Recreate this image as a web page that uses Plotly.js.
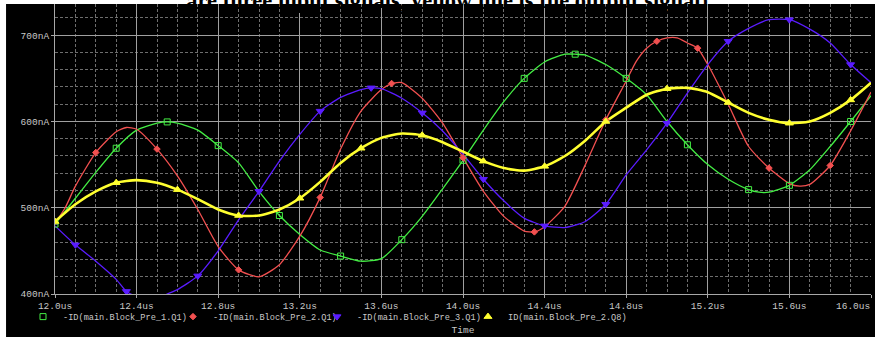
<!DOCTYPE html>
<html><head><meta charset="utf-8">
<script src="https://cdn.plot.ly/plotly-3.0.1.min.js"></script>
<style>html,body{margin:0;padding:0;background:#fff;overflow:hidden}#chart{width:875px;height:343px}</style>
</head><body><div id="chart"></div>
<script>
// -ID(main.Block_Pre_1.Q1)  (green)
const tPre1 = [12.0,12.1,12.2,12.3,12.4,12.5,12.55,12.6,12.7,12.8,12.9,13.0,13.1,13.2,13.3,13.4,13.5,13.6,13.7,13.8,13.9,14.0,14.1,14.2,14.3,14.4,14.5,14.55,14.6,14.7,14.8,14.9,15.0,15.1,15.2,15.3,15.4,15.45,15.5,15.6,15.7,15.8,15.9,16.0];
const idPre1 = [481,511,541,569,590,598,599.5,598,590,572,552,519,491,469,451,444,438,441,463,490,522,555,590,623,650,669,678,678,677,666,650,631,600,573,550,533,521,518,518,526,544,571,600,630];
// -ID(main.Block_Pre_2.Q1)  (red)
const tPre2 = [12.0,12.05,12.1,12.2,12.3,12.35,12.4,12.5,12.6,12.7,12.8,12.9,13.0,13.1,13.2,13.3,13.4,13.5,13.6,13.65,13.7,13.8,13.9,14.0,14.1,14.2,14.3,14.35,14.4,14.5,14.6,14.7,14.8,14.85,14.9,14.95,15.0,15.05,15.1,15.15,15.2,15.3,15.4,15.5,15.6,15.65,15.7,15.8,15.9,16.0];
const idPre2 = [482,500,525,564,588,593,591,568,537,498,455,428,420,434,467,512,568,612,637,644,645,627,598,558,519,490,473,472,478,502,550,602,647,670,685,693,697,697,691,685,666,620,571,546,528,525,527,549,589,634];
// -ID(main.Block_Pre_3.Q1)  (blue)
const tPre3 = [12.0,12.1,12.2,12.3,12.35,12.4,12.47,12.55,12.6,12.7,12.8,12.9,13.0,13.1,13.2,13.3,13.4,13.5,13.55,13.6,13.7,13.8,13.9,14.0,14.1,14.2,14.3,14.4,14.5,14.6,14.7,14.8,14.9,15.0,15.1,15.2,15.3,15.4,15.5,15.6,15.7,15.8,15.9,16.0];
const idPre3 = [479,457,438,417,403,397,392,400,405,421,450,486,519,554,585,612,628,637,639,638,627,610,589,562,533,508,488,479,477,484,504,538,567,598,633,666,693,708,718,718,707,691,666,645];
// ID(main.Block_Pre_2.Q8)  (yellow, output)
const tQ8 = [12.0,12.1,12.2,12.3,12.4,12.5,12.6,12.7,12.8,12.9,13.0,13.1,13.2,13.3,13.4,13.5,13.6,13.7,13.8,13.9,14.0,14.1,14.2,14.3,14.4,14.5,14.6,14.7,14.8,14.9,15.0,15.1,15.2,15.3,15.4,15.5,15.6,15.7,15.8,15.9,16.0];
const idQ8 = [484,504,519,529,532,529,521,510,498,491,491,498,511,530,552,569,581,586,584,576,565,554,546,543,548,560,578,600,616,631,638,639,634,622,610,602,598,600,610,625,645];

const seriesNames = ['-ID(main.Block_Pre_1.Q1)','-ID(main.Block_Pre_2.Q1)','-ID(main.Block_Pre_3.Q1)','ID(main.Block_Pre_2.Q8)'];
const xTickVals = [12.0,12.4,12.8,13.2,13.6,14.0,14.4,14.8,15.2,15.6,16.0];
const xTickLabels = ['12.0us','12.4us','12.8us','13.2us','13.6us','14.0us','14.4us','14.8us','15.2us','15.6us','16.0us'];
const yTickVals = [400,500,600,700];
const yTickLabels = ['400nA','500nA','600nA','700nA'];
const titleText = 'are three input signals, yellow line is the output signal)';
const xTitle = 'Time';

const styles = [
  {color:'#44ee44', width:1.3, symbol:'square-open', size:6},
  {color:'#f25050', width:1.3, symbol:'diamond', size:5},
  {color:'#5a1cff', width:1.3, symbol:'triangle-down', size:7},
  {color:'#ffff30', width:2.6, symbol:'triangle-up', size:7}
];
const legendIds = ['legend','legend2','legend3','legend4'];
const legendX = [-0.0392, 0.1446, 0.3211, 0.5061];
const xs = [tPre1,tPre2,tPre3,tQ8];
const ys = [idPre1,idPre2,idPre3,idQ8];
const traces = [];
for (let i=0;i<4;i++){
  traces.push({x:xs[i], y:ys[i], type:'scatter', mode:'lines', showlegend:false, hoverinfo:'skip',
    line:{color:styles[i].color, width:styles[i].width, shape:'spline', smoothing:0.6}});
}
for (let i=0;i<4;i++){
  traces.push({x:xs[i], y:ys[i], type:'scatter', mode:'markers', name:seriesNames[i], hoverinfo:'skip',
    legend:legendIds[i],
    marker:{color:styles[i].color, symbol:styles[i].symbol, size:styles[i].size, maxdisplayed:16,
      line:{color:styles[i].color, width:1}}});
}

const mono = 'Liberation Mono, DejaVu Sans Mono, monospace';
const lblColor = '#c8c8c8';
const nLast = xTickLabels.length - 1;
// last tick label is right-aligned to the axis end (as in the original), drawn as an annotation
const tickText = xTickLabels.map((s,i)=> i===nLast ? '' : s);

const layout = {
  width:875, height:343,
  margin:{l:55, r:4, t:4, b:49, pad:0},
  paper_bgcolor:'#ffffff', plot_bgcolor:'#000000',
  title:{text:'<b>'+titleText+'</b>', font:{family:'Liberation Serif, serif', size:22.5, color:'#000'},
    xref:'container', yref:'container', x:0.511, xanchor:'center', y:1.0, yanchor:'middle'},
  showlegend:true,
  shapes:[{type:'rect', xref:'paper', yref:'paper', x0:-0.06, x1:1.01, y0:-0.148, y1:1.0,
    fillcolor:'#000', line:{width:0}, layer:'below'}],
  annotations:[{x:xTickVals[nLast], xref:'x', y:0, yref:'paper', xanchor:'right', yanchor:'middle',
    yshift:-12, xshift:1, text:xTickLabels[nLast], showarrow:false, font:{family:mono, size:9.5, color:lblColor}}],
  xaxis:{range:[12,16], tickmode:'array', tickvals:xTickVals, ticktext:tickText,
    showgrid:true, gridcolor:'#a0a0a0', gridwidth:1, zeroline:false,
    showline:true, linecolor:'#a8a8a8', linewidth:1, ticks:'outside', ticklen:3, tickcolor:'#a8a8a8',
    tickfont:{family:mono, size:9.5, color:lblColor},
    minor:{tick0:12, dtick:0.1, showgrid:true, gridcolor:'#6e6e6e', griddash:'3px,2px', gridwidth:1},
    title:{text:xTitle, font:{family:mono, size:9.5, color:lblColor}, standoff:14}, fixedrange:true},
  yaxis:{range:[400,736.2], tickmode:'array', tickvals:yTickVals, ticktext:yTickLabels,
    showgrid:true, gridcolor:'#a0a0a0', gridwidth:1, zeroline:false,
    showline:true, linecolor:'#a8a8a8', linewidth:1, ticks:'outside', ticklen:3, tickcolor:'#a8a8a8',
    tickfont:{family:mono, size:9.5, color:lblColor},
    minor:{tick0:400, dtick:20, showgrid:true, gridcolor:'#6e6e6e', griddash:'3px,2px', gridwidth:1},
    fixedrange:true}
};
legendIds.forEach((id,i)=>{
  layout[id] = {orientation:'h', x:legendX[i], xanchor:'left', y:-0.078, yanchor:'middle',
    font:{family:mono, size:8.6, color:lblColor}, bgcolor:'rgba(0,0,0,0)', itemwidth:30};
});
Plotly.newPlot('chart', traces, layout, {displayModeBar:false, staticPlot:true});
</script></body></html>
